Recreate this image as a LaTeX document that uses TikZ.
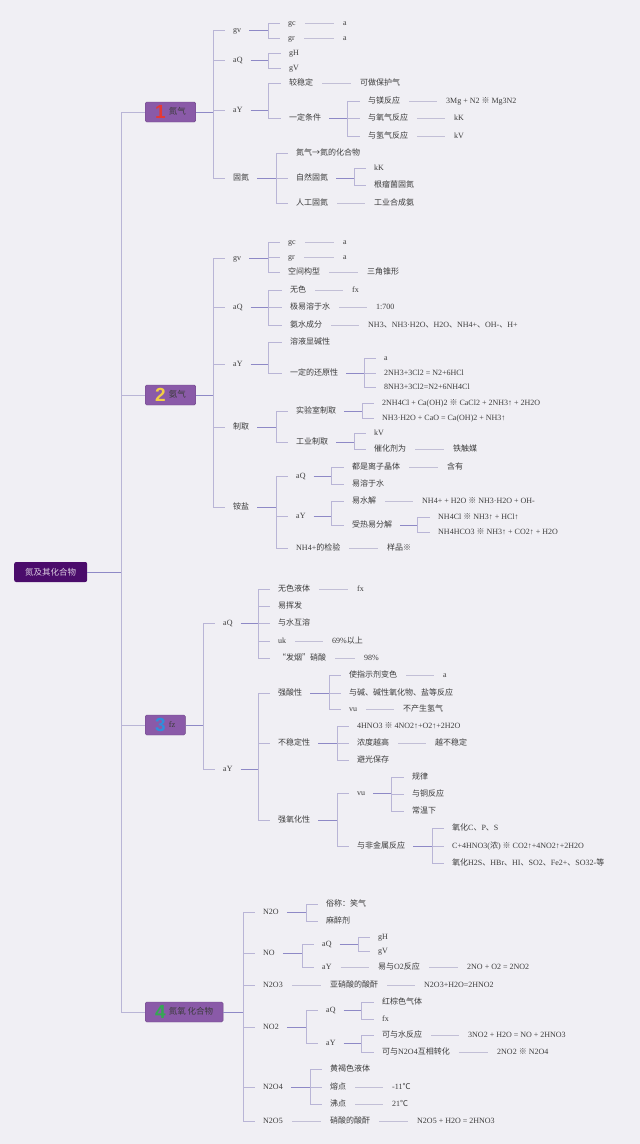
\documentclass[tikz,border=0pt]{standalone}
\usepackage{fontspec}
\setmainfont{Liberation Serif}
\newfontfamily\cjk{Noto Sans CJK SC}
\newfontfamily\numfont{Liberation Sans}

\definecolor{bgc}{HTML}{F0EFF4}
\definecolor{rootc}{HTML}{4B0C6B}
\definecolor{topicc}{HTML}{8A5AA8}
\definecolor{hubc}{HTML}{8E89C6}
\definecolor{barc}{HTML}{B9B5D6}
\definecolor{leafc}{HTML}{C2BFD6}
\definecolor{inkc}{HTML}{3C3C3C}
\definecolor{n1}{HTML}{E53935}
\definecolor{n2}{HTML}{F2CF45}
\definecolor{n3}{HTML}{2F8FDB}
\definecolor{n4}{HTML}{34A853}

\newcommand\zh[1]{{\cjk #1}}
\newcommand\sep{\zh{、}}
\newcommand\rx{\zh{※}}
\newcommand\bignum[2]{\raisebox{-4.3pt}{\numfont\bfseries\fontsize{19}{19}\selectfont\color{#1}#2}}
\newcommand\fork[4][hub]{%
  \draw[#1] (#2.east) -- (#3,0 |- #2.east);
  \foreach \kid in {#4} {\draw[stub] (#3,0 |- #2.east) |- (\kid.west);}
}
\newcommand\tie[2]{\draw[leaf] (#1.east) -- (#2.west);}

\tikzset{
  item/.style={anchor=west, inner xsep=0pt, inner ysep=1pt, text height=6.3pt,
    text depth=1.8pt, font=\fontsize{8}{9}\selectfont, text=inkc},
  topic/.style={anchor=west, fill=topicc, draw=topicc!80!black, line width=0.4pt,
    rounded corners=1.5pt, inner xsep=10pt, minimum height=20pt, text height=7pt,
    text depth=2pt, font=\fontsize{8.5}{10}\selectfont, text=inkc},
  rootbox/.style={anchor=west, fill=rootc, rounded corners=2pt, minimum width=73pt,
    minimum height=20pt, text=white!80!rootc, font=\fontsize{8.5}{10}\selectfont},
  hub/.style={draw=hubc, line width=0.8pt, shorten <=8pt},
  bar/.style={draw=barc, line width=0.8pt},
  stub/.style={bar, shorten >=8pt},
  leaf/.style={draw=leafc, line width=0.8pt, shorten <=9pt, shorten >=9pt},
}

\begin{document}
\begin{tikzpicture}[x=1pt, y=-1pt]
  \fill[bgc] (0,0) rectangle (640,1144);
  \useasboundingbox (0,0) rectangle (640,1144);

  % Define nodes
  \node[rootbox] (root) at (14,572) {\zh{氮及其化合物}};
  \node[topic] (t1) at (145,112) {\bignum{n1}{1}\hspace{3pt}\zh{氮气}};
  \node[topic] (t2) at (145,395) {\bignum{n2}{2}\hspace{3pt}\zh{氨气}};
  \node[topic] (t3) at (145,725) {\bignum{n3}{3}\hspace{3pt}fz};
  \node[topic] (t4) at (145,1012) {\bignum{n4}{4}\hspace{3pt}\zh{氮氧 化合物}};

  % nitrogen
  \node[item] (Nwl) at (233,30) {gv};
  \node[item] (Nq) at (233,60) {aQ};
  \node[item] (Nh) at (233,110) {aY};
  \node[item] (Ngd) at (233,178) {\zh{固氮}};
  \node[item] (Nwlc) at (288,23) {gc};
  \node[item] (Nwlr) at (288,38) {gr};
  \node[item] (Nwlca) at (343,23) {a};
  \node[item] (Nwlra) at (343,38) {a};
  \node[item] (NqH) at (289,53) {gH};
  \node[item] (NqV) at (289,68) {gV};
  \node[item] (Nhw) at (289,83) {\zh{较稳定}};
  \node[item] (Nhwa) at (360,83) {\zh{可做保护气}};
  \node[item] (Nht) at (289,118) {\zh{一定条件}};
  \node[item] (NtMg) at (368,101) {\zh{与镁反应}};
  \node[item] (NtO) at (368,118) {\zh{与氧气反应}};
  \node[item] (NtH) at (368,136) {\zh{与氢气反应}};
  \node[item] (NtMga) at (446,101) {3Mg + N2 \rx{} Mg3N2};
  \node[item] (NtOa) at (454,118) {kK};
  \node[item] (NtHa) at (454,136) {kV};
  \node[item] (Ngd1) at (296,153) {\zh{氮气→氮的化合物}};
  \node[item] (Ngd2) at (296,178) {\zh{自然固氮}};
  \node[item] (Ngd3) at (296,203) {\zh{人工固氮}};
  \node[item] (Ngd2a) at (374,168) {kK};
  \node[item] (Ngd2b) at (374,185) {\zh{根瘤菌固氮}};
  \node[item] (Ngd3a) at (374,203) {\zh{工业合成氨}};

  % ammonia
  \node[item] (Awl) at (233,258) {gv};
  \node[item] (Aq) at (233,307) {aQ};
  \node[item] (Ah) at (233,364) {aY};
  \node[item] (Azq) at (233,427) {\zh{制取}};
  \node[item] (Ayy) at (233,507) {\zh{铵盐}};
  \node[item] (Awlc) at (288,242) {gc};
  \node[item] (Awlr) at (288,257) {gr};
  \node[item] (Awlk) at (288,272) {\zh{空间构型}};
  \node[item] (Awlca) at (343,242) {a};
  \node[item] (Awlra) at (343,257) {a};
  \node[item] (Awlka) at (367,272) {\zh{三角锥形}};
  \node[item] (Aq1) at (290,290) {\zh{无色}};
  \node[item] (Aq2) at (290,307) {\zh{极易溶于水}};
  \node[item] (Aq3) at (290,325) {\zh{氨水成分}};
  \node[item] (Aq1a) at (352,290) {fx};
  \node[item] (Aq2a) at (376,307) {1:700};
  \node[item] (Aq3a) at (368,325) {NH3\sep NH3·H2O\sep H2O\sep NH4+\sep OH-\sep H+};
  \node[item] (Ah1) at (290,342) {\zh{溶液显碱性}};
  \node[item] (Ah2) at (290,373) {\zh{一定的还原性}};
  \node[item] (Ah2a) at (384,358) {a};
  \node[item] (Ah2b) at (384,373) {2NH3+3Cl2 = N2+6HCl};
  \node[item] (Ah2c) at (384,387) {8NH3+3Cl2=N2+6NH4Cl};
  \node[item] (Azq1) at (296,411) {\zh{实验室制取}};
  \node[item] (Azq2) at (296,442) {\zh{工业制取}};
  \node[item] (Azq1a) at (382,403) {2NH4Cl + Ca(OH)2 \rx{} CaCl2 + 2NH3↑ + 2H2O};
  \node[item] (Azq1b) at (382,418) {NH3·H2O + CaO = Ca(OH)2 + NH3↑};
  \node[item] (Azq2a) at (374,433) {kV};
  \node[item] (Azq2b) at (374,449) {\zh{催化剂为}};
  \node[item] (Azq2c) at (453,449) {\zh{铁触媒}};
  \node[item] (Ayq) at (296,476) {aQ};
  \node[item] (Ayh) at (296,516) {aY};
  \node[item] (Ayj) at (296,548) {NH4+\zh{的检验}};
  \node[item] (Ayq1) at (352,467) {\zh{都是离子晶体}};
  \node[item] (Ayq1a) at (447,467) {\zh{含有}};
  \node[item] (Ayq2) at (352,484) {\zh{易溶于水}};
  \node[item] (Ayh1) at (352,501) {\zh{易水解}};
  \node[item] (Ayh1a) at (422,501) {NH4+ + H2O \rx{} NH3·H2O + OH-};
  \node[item] (Ayh2) at (352,525) {\zh{受热易分解}};
  \node[item] (Ayh2a) at (438,517) {NH4Cl \rx{} NH3↑ + HCl↑};
  \node[item] (Ayh2b) at (438,532) {NH4HCO3 \rx{} NH3↑ + CO2↑ + H2O};
  \node[item] (Ayja) at (387,548) {\zh{样品※}};

  % nitric acid
  \node[item] (Xq) at (223,623) {aQ};
  \node[item] (Xh) at (223,769) {aY};
  \node[item] (Xq1) at (278,589) {\zh{无色液体}};
  \node[item] (Xq1a) at (357,589) {fx};
  \node[item] (Xq2) at (278,606) {\zh{易挥发}};
  \node[item] (Xq3) at (278,623) {\zh{与水互溶}};
  \node[item] (Xq4) at (278,641) {uk};
  \node[item] (Xq4a) at (332,641) {69\%\zh{以上}};
  \node[item] (Xq5) at (278,658) {\zh{“发烟”硝酸}};
  \node[item] (Xq5a) at (364,658) {98\%};
  \node[item] (Xs) at (278,693) {\zh{强酸性}};
  \node[item] (Xb) at (278,743) {\zh{不稳定性}};
  \node[item] (Xy) at (278,820) {\zh{强氧化性}};
  \node[item] (Xs1) at (349,675) {\zh{使指示剂变色}};
  \node[item] (Xs1a) at (443,675) {a};
  \node[item] (Xs2) at (349,693) {\zh{与碱、碱性氧化物、盐等反应}};
  \node[item] (Xs3) at (349,709) {vu};
  \node[item] (Xs3a) at (403,709) {\zh{不产生氢气}};
  \node[item] (Xb1) at (357,726) {4HNO3 \rx{} 4NO2↑+O2↑+2H2O};
  \node[item] (Xb2) at (357,743) {\zh{浓度越高}};
  \node[item] (Xb2a) at (435,743) {\zh{越不稳定}};
  \node[item] (Xb3) at (357,760) {\zh{避光保存}};
  \node[item] (Xy1) at (357,793) {vu};
  \node[item] (Xy2) at (357,846) {\zh{与非金属反应}};
  \node[item] (Xy1a) at (412,777) {\zh{规律}};
  \node[item] (Xy1b) at (412,794) {\zh{与铜反应}};
  \node[item] (Xy1c) at (412,811) {\zh{常温下}};
  \node[item] (Xy2a) at (452,828) {\zh{氧化}C\sep P\sep S};
  \node[item] (Xy2b) at (452,846) {C+4HNO3(\zh{浓}) \rx{} CO2↑+4NO2↑+2H2O};
  \node[item] (Xy2c) at (452,863) {\zh{氧化}H2S\sep HBr\sep HI\sep SO2\sep Fe2+\sep SO32-\zh{等}};

  % nitrogen oxides
  \node[item] (O1) at (263,912) {N2O};
  \node[item] (O2) at (263,953) {NO};
  \node[item] (O3) at (263,985) {N2O3};
  \node[item] (O4) at (263,1027) {NO2};
  \node[item] (O5) at (263,1087) {N2O4};
  \node[item] (O6) at (263,1121) {N2O5};
  \node[item] (O1a) at (326,904) {\zh{俗称：笑气}};
  \node[item] (O1b) at (326,921) {\zh{麻醉剂}};
  \node[item] (O2q) at (322,944) {aQ};
  \node[item] (O2h) at (322,967) {aY};
  \node[item] (O2q1) at (378,937) {gH};
  \node[item] (O2q2) at (378,951) {gV};
  \node[item] (O2h1) at (378,967) {\zh{易与}O2\zh{反应}};
  \node[item] (O2h1a) at (467,967) {2NO + O2 = 2NO2};
  \node[item] (O3a) at (330,985) {\zh{亚硝酸的酸酐}};
  \node[item] (O3b) at (424,985) {N2O3+H2O=2HNO2};
  \node[item] (O4q) at (326,1010) {aQ};
  \node[item] (O4h) at (326,1043) {aY};
  \node[item] (O4q1) at (382,1002) {\zh{红棕色气体}};
  \node[item] (O4q2) at (382,1019) {fx};
  \node[item] (O4h1) at (382,1035) {\zh{可与水反应}};
  \node[item] (O4h1a) at (468,1035) {3NO2 + H2O = NO + 2HNO3};
  \node[item] (O4h2) at (382,1052) {\zh{可与}N2O4\zh{互相转化}};
  \node[item] (O4h2a) at (497,1052) {2NO2 \rx{} N2O4};
  \node[item] (O5a) at (330,1069) {\zh{黄褐色液体}};
  \node[item] (O5b) at (330,1087) {\zh{熔点}};
  \node[item] (O5ba) at (392,1087) {-11\zh{℃}};
  \node[item] (O5c) at (330,1104) {\zh{沸点}};
  \node[item] (O5ca) at (392,1104) {21\zh{℃}};
  \node[item] (O6a) at (330,1121) {\zh{硝酸的酸酐}};
  \node[item] (O6b) at (417,1121) {N2O5 + H2O = 2HNO3};

  % Connect the nodes
  \draw[hub, shorten <=0pt] (root.east) -- (121,0 |- root.east);
  \foreach \t in {t1,t2,t3,t4} {\draw[bar] (121,0 |- root.east) |- (\t.west);}

  \fork[hub, shorten <=0pt]{t1}{213}{Nwl,Nq,Nh,Ngd}
  \fork{Nwl}{268}{Nwlc,Nwlr}
  \fork{Nq}{268}{NqH,NqV}
  \fork{Nh}{268}{Nhw,Nht}
  \fork{Nht}{347}{NtMg,NtO,NtH}
  \fork{Ngd}{276}{Ngd1,Ngd2,Ngd3}
  \fork{Ngd2}{354}{Ngd2a,Ngd2b}
  \tie{Nwlc}{Nwlca} \tie{Nwlr}{Nwlra} \tie{Nhw}{Nhwa}
  \tie{NtMg}{NtMga} \tie{NtO}{NtOa} \tie{NtH}{NtHa} \tie{Ngd3}{Ngd3a}

  \fork[hub, shorten <=0pt]{t2}{213}{Awl,Aq,Ah,Azq,Ayy}
  \fork{Awl}{268}{Awlc,Awlr,Awlk}
  \fork{Aq}{268}{Aq1,Aq2,Aq3}
  \fork{Ah}{268}{Ah1,Ah2}
  \fork{Ah2}{364}{Ah2a,Ah2b,Ah2c}
  \fork{Azq}{276}{Azq1,Azq2}
  \fork{Azq1}{362}{Azq1a,Azq1b}
  \fork{Azq2}{354}{Azq2a,Azq2b}
  \fork{Ayy}{276}{Ayq,Ayh,Ayj}
  \fork{Ayq}{331}{Ayq1,Ayq2}
  \fork{Ayh}{331}{Ayh1,Ayh2}
  \fork{Ayh2}{417}{Ayh2a,Ayh2b}
  \tie{Awlc}{Awlca} \tie{Awlr}{Awlra} \tie{Awlk}{Awlka}
  \tie{Aq1}{Aq1a} \tie{Aq2}{Aq2a} \tie{Aq3}{Aq3a}
  \tie{Azq2b}{Azq2c} \tie{Ayq1}{Ayq1a} \tie{Ayh1}{Ayh1a} \tie{Ayj}{Ayja}

  \fork[hub, shorten <=0pt]{t3}{203}{Xq,Xh}
  \fork{Xq}{258}{Xq1,Xq2,Xq3,Xq4,Xq5}
  \fork{Xh}{258}{Xs,Xb,Xy}
  \fork{Xs}{329}{Xs1,Xs2,Xs3}
  \fork{Xb}{337}{Xb1,Xb2,Xb3}
  \fork{Xy}{337}{Xy1,Xy2}
  \fork{Xy1}{391}{Xy1a,Xy1b,Xy1c}
  \fork{Xy2}{432}{Xy2a,Xy2b,Xy2c}
  \tie{Xq1}{Xq1a} \tie{Xq4}{Xq4a} \tie{Xq5}{Xq5a}
  \tie{Xs1}{Xs1a} \tie{Xs3}{Xs3a} \tie{Xb2}{Xb2a}

  \fork[hub, shorten <=0pt]{t4}{243}{O1,O2,O3,O4,O5,O6}
  \fork{O1}{306}{O1a,O1b}
  \fork{O2}{302}{O2q,O2h}
  \fork{O2q}{358}{O2q1,O2q2}
  \fork{O4}{306}{O4q,O4h}
  \fork{O4q}{361}{O4q1,O4q2}
  \fork{O4h}{361}{O4h1,O4h2}
  \fork{O5}{310}{O5a,O5b,O5c}
  \tie{O2h}{O2h1} \tie{O2h1}{O2h1a} \tie{O3}{O3a} \tie{O3a}{O3b}
  \tie{O4h1}{O4h1a} \tie{O4h2}{O4h2a} \tie{O5b}{O5ba} \tie{O5c}{O5ca}
  \tie{O6}{O6a} \tie{O6a}{O6b}
\end{tikzpicture}
\end{document}
